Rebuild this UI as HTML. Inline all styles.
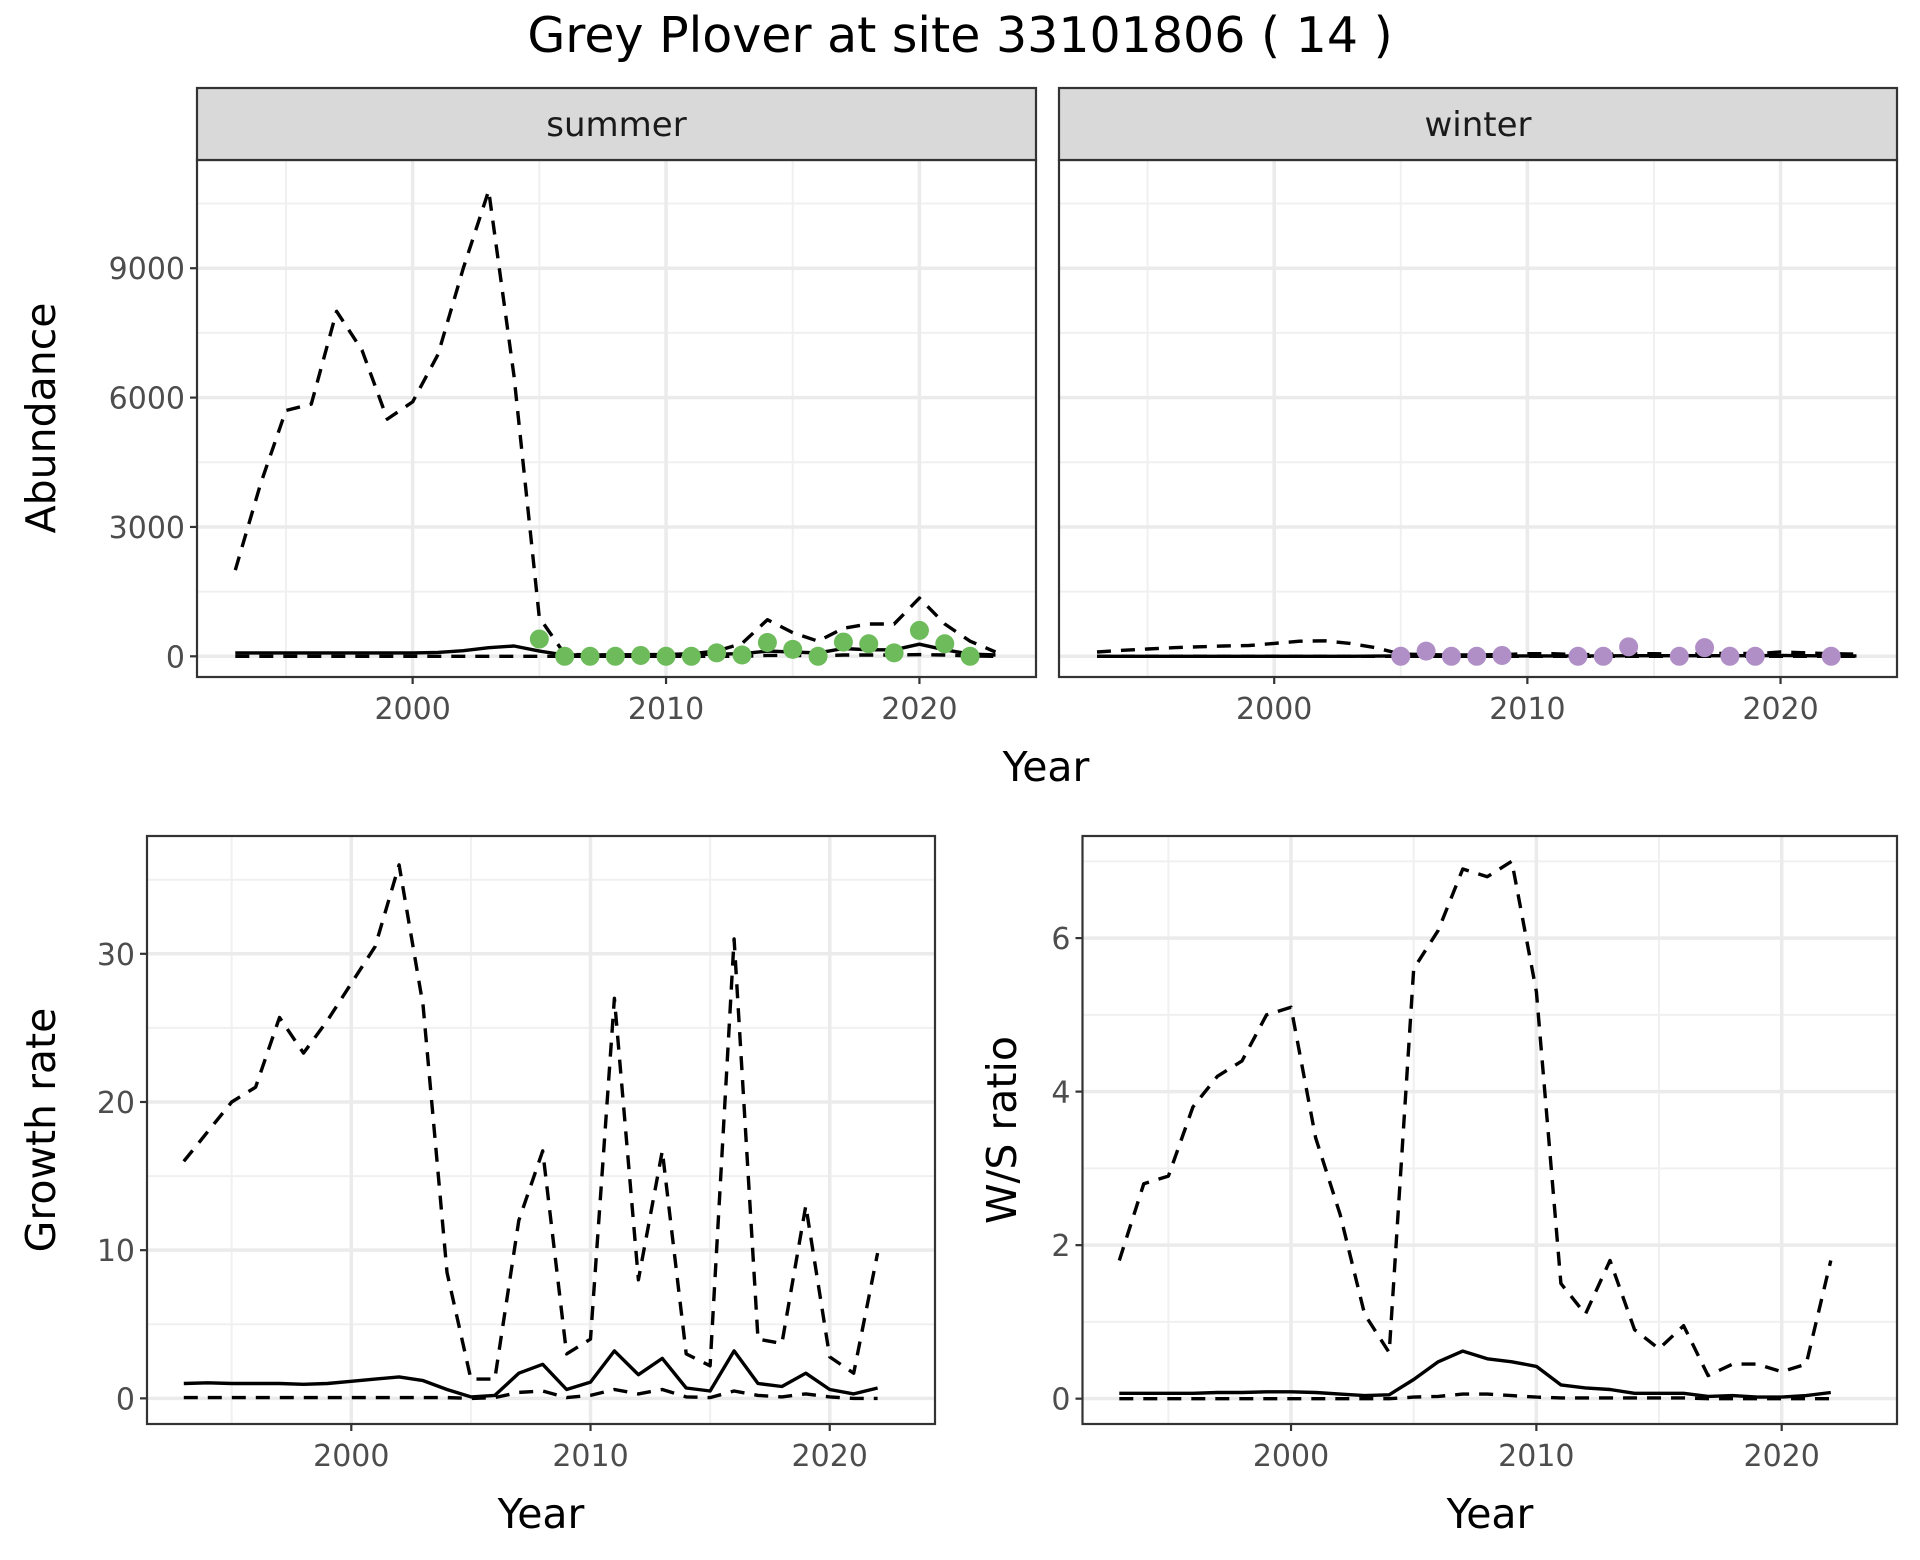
<!DOCTYPE html>
<html><head><meta charset="utf-8"><style>
html,body{margin:0;padding:0;background:#fff;}
svg{display:block;font-family:"DejaVu Sans","Liberation Sans",sans-serif;}
</style></head><body>
<svg id="chart" width="1920" height="1560" viewBox="0 0 1920 1560">
<rect width="1920" height="1560" fill="#fff"/>
<text x="960" y="52" text-anchor="middle" font-size="49" fill="#000">Grey Plover at site 33101806 ( 14 )</text>
</svg>
<script>
const yearsTop = [1993,1994,1995,1996,1997,1998,1999,2000,2001,2002,2003,2004,2005,2006,2007,2008,2009,2010,2011,2012,2013,2014,2015,2016,2017,2018,2019,2020,2021,2022,2023];
const summerUpper = [2000,4000,5700,5850,8000,7100,5500,5900,7000,9000,10800,6500,900,50,30,30,40,40,60,120,300,850,550,350,650,750,750,1350,750,350,100];
const summerMid = [80,80,80,80,80,80,80,80,90,130,200,240,120,30,30,30,30,30,40,50,60,120,100,80,180,150,150,280,150,50,30];
const summerLower = [0,0,0,0,0,0,0,0,0,0,0,0,0,0,0,0,0,0,0,0,0,20,20,10,30,30,30,40,30,10,0];
const summerDotYears = [2005,2006,2007,2008,2009,2010,2011,2012,2013,2014,2015,2016,2017,2018,2019,2020,2021,2022];
const summerDots = [400,0,0,0,20,0,0,80,30,320,160,0,330,290,80,600,290,0];
const winterUpper = [100,140,170,200,220,240,250,300,350,360,300,200,50,40,30,30,40,60,60,40,40,60,60,50,60,70,60,100,80,60,50];
const winterMid = [0,0,0,0,0,0,0,0,0,0,0,5,10,10,10,10,10,10,10,10,10,15,15,15,15,15,15,20,15,10,10];
const winterLower = [0,0,0,0,0,0,0,0,0,0,0,0,0,0,0,0,0,0,0,0,0,0,0,0,0,0,0,0,0,0,0];
const winterDotYears = [2005,2006,2007,2008,2009,2012,2013,2014,2016,2017,2018,2019,2022];
const winterDots = [0,120,0,0,20,0,0,220,0,200,0,0,0];
const yearsBottom = [1993,1994,1995,1996,1997,1998,1999,2000,2001,2002,2003,2004,2005,2006,2007,2008,2009,2010,2011,2012,2013,2014,2015,2016,2017,2018,2019,2020,2021,2022];
const growthUpper = [16,18,20,21,25.7,23.3,25.5,28,30.5,36,26.5,8.5,1.3,1.3,12,16.7,3,4,27,8,16.7,3,2.2,31,4,3.7,13,2.8,1.7,9.8];
const growthMid = [1,1.05,1,1,1,0.95,1,1.15,1.3,1.45,1.2,0.6,0.1,0.2,1.7,2.3,0.6,1.1,3.2,1.6,2.7,0.7,0.5,3.2,1,0.8,1.7,0.6,0.3,0.7];
const growthLower = [0.05,0.05,0.05,0.05,0.05,0.05,0.05,0.05,0.05,0.05,0.05,0.05,0,0.05,0.4,0.5,0.05,0.2,0.6,0.3,0.6,0.1,0.05,0.5,0.2,0.1,0.3,0.1,0,0];
const ratioUpper = [1.8,2.8,2.9,3.8,4.2,4.4,5.0,5.1,3.4,2.4,1.1,0.6,5.6,6.1,6.9,6.8,7.0,5.3,1.5,1.1,1.8,0.9,0.65,0.95,0.3,0.45,0.45,0.35,0.45,1.8];
const ratioMid = [0.07,0.07,0.07,0.07,0.08,0.08,0.09,0.09,0.08,0.06,0.04,0.05,0.25,0.48,0.62,0.52,0.48,0.42,0.18,0.14,0.12,0.07,0.07,0.07,0.03,0.04,0.02,0.02,0.04,0.08];
const ratioLower = [0,0,0,0,0,0,0,0,0,0,0,0,0.02,0.03,0.06,0.06,0.04,0.02,0.01,0.01,0.01,0.01,0.01,0.01,0,0,0,0,0,0];
const xTicks = [2000,2010,2020];
const abundTicks = [0,3000,6000,9000];
const growthTicks = [0,10,20,30];
const ratioTicks = [0,2,4,6];

const NS='http://www.w3.org/2000/svg';
const svg=document.getElementById('chart');
function mk(tag,attrs,parent){const e=document.createElementNS(NS,tag);for(const k in attrs)e.setAttribute(k,attrs[k]);(parent||svg).appendChild(e);return e;}
function lin(d0,d1,r0,r1){return v=>r0+(v-d0)/(d1-d0)*(r1-r0);}

function panel(cfg){
  const g=mk('g',{});
  
  
  const {x0,x1,y0,y1}=cfg;
  const X=lin(cfg.xd[0],cfg.xd[1],x0,x1), Y=lin(cfg.yd[0],cfg.yd[1],y1,y0);
  mk('rect',{x:x0,y:y0,width:x1-x0,height:y1-y0,fill:'#fff'},g);
  const yt=cfg.yticks, step=yt[1]-yt[0];
  for(let v=yt[0]-step/2; v<=cfg.yd[1]; v+=step){ if(v<cfg.yd[0])continue; mk('line',{x1:x0,x2:x1,y1:Y(v),y2:Y(v),stroke:'#f0f0f0','stroke-width':2},g);}
  for(let v=1995; v<=2025; v+=10){ if(v<cfg.xd[0]||v>cfg.xd[1])continue; mk('line',{x1:X(v),x2:X(v),y1:y0,y2:y1,stroke:'#f0f0f0','stroke-width':2},g);}
  yt.forEach(v=>{mk('line',{x1:x0,x2:x1,y1:Y(v),y2:Y(v),stroke:'#ebebeb','stroke-width':3.5},g);});
  xTicks.forEach(v=>{mk('line',{x1:X(v),x2:X(v),y1:y0,y2:y1,stroke:'#ebebeb','stroke-width':3.5},g);});
  const series=[[cfg.upper,'14,10'],[cfg.lower,'14,10'],[cfg.mid,null]];
  series.forEach(([arr,dash],i)=>{
    const pts=arr.map((v,j)=>X(cfg.years[j]).toFixed(1)+','+Y(v).toFixed(1)).join(' ');
    const p=mk('polyline',{points:pts,fill:'none',stroke:'#000','stroke-width':3.4,'stroke-linejoin':'round'},g);
    if(dash)p.setAttribute('stroke-dasharray',dash);
    
    
  });
  if(cfg.dots){
    cfg.dots.forEach((v,j)=>{
      const c=mk('circle',{cx:X(cfg.dotYears[j]),cy:Y(v),r:9.5,fill:cfg.dotColor},g);
      
      
    });
  }
  mk('rect',{x:x0,y:y0,width:x1-x0,height:y1-y0,fill:'none',stroke:'#333','stroke-width':2.2},g);
  if(cfg.showY){
    yt.forEach(v=>{
      mk('line',{x1:x0-7,x2:x0,y1:Y(v),y2:Y(v),stroke:'#333','stroke-width':2.2},g);
      const t=mk('text',{x:x0-12,y:Y(v)+11,'text-anchor':'end','font-size':30,fill:'#4d4d4d'},g);t.textContent=v;
      
      
    });
  }
  xTicks.forEach(v=>{
    mk('line',{x1:X(v),x2:X(v),y1:y1,y2:y1+7,stroke:'#333','stroke-width':2.2},g);
    const t=mk('text',{x:X(v),y:y1+42,'text-anchor':'middle','font-size':30,fill:'#4d4d4d'},g);t.textContent=v;
    
    
  });
  if(cfg.strip){
    const s=mk('rect',{x:x0,y:cfg.stripY,width:x1-x0,height:y0-cfg.stripY,fill:'#d9d9d9',stroke:'#333','stroke-width':2.2},g);
    
    
    const t=mk('text',{x:(x0+x1)/2,y:cfg.stripY+48,'text-anchor':'middle','font-size':34,fill:'#1a1a1a'},g);t.textContent=cfg.strip;
    
    
  }
}
function label(txt,x,y,rot,name){
  const t=mk('text',{x:x,y:y,'text-anchor':'middle','font-size':41,fill:'#000'});
  if(rot)t.setAttribute('transform','rotate(-90 '+x+' '+y+')');
  t.textContent=txt;
  
  
}
const topX=[1991.49,2024.6];
panel({name:'summer-panel',x0:197,x1:1036,y0:160,y1:677,xd:topX,yd:[-480,11510],years:yearsTop,upper:summerUpper,mid:summerMid,lower:summerLower,dots:summerDots,dotYears:summerDotYears,dotColor:'#6dbb5a',yticks:abundTicks,showY:true,strip:'summer',stripY:88});
panel({name:'winter-panel',x0:1059,x1:1897,y0:160,y1:677,xd:[1991.5,2024.6],yd:[-480,11510],years:yearsTop,upper:winterUpper,mid:winterMid,lower:winterLower,dots:winterDots,dotYears:winterDotYears,dotColor:'#b08fc7',yticks:abundTicks,showY:false,strip:'winter',stripY:88});
panel({name:'growth-rate-panel',x0:147,x1:935,y0:836,y1:1424,xd:[1991.46,2024.4],yd:[-1.73,37.95],years:yearsBottom,upper:growthUpper,mid:growthMid,lower:growthLower,yticks:growthTicks,showY:true});
panel({name:'ws-ratio-panel',x0:1082.5,x1:1897,y0:836,y1:1424,xd:[1991.5,2024.7],yd:[-0.33,7.33],years:yearsBottom,upper:ratioUpper,mid:ratioMid,lower:ratioLower,yticks:ratioTicks,showY:true});
label('Abundance',55,418,true,'y-axis-title-abundance');
label('Year',1046,781,false,'x-axis-title-top');
label('Growth rate',55,1130,true,'y-axis-title-growth');
label('Year',541,1528,false,'x-axis-title-growth');
label('W/S ratio',1016,1130,true,'y-axis-title-ratio');
label('Year',1490,1528,false,'x-axis-title-ratio');
</script>
</body></html>
